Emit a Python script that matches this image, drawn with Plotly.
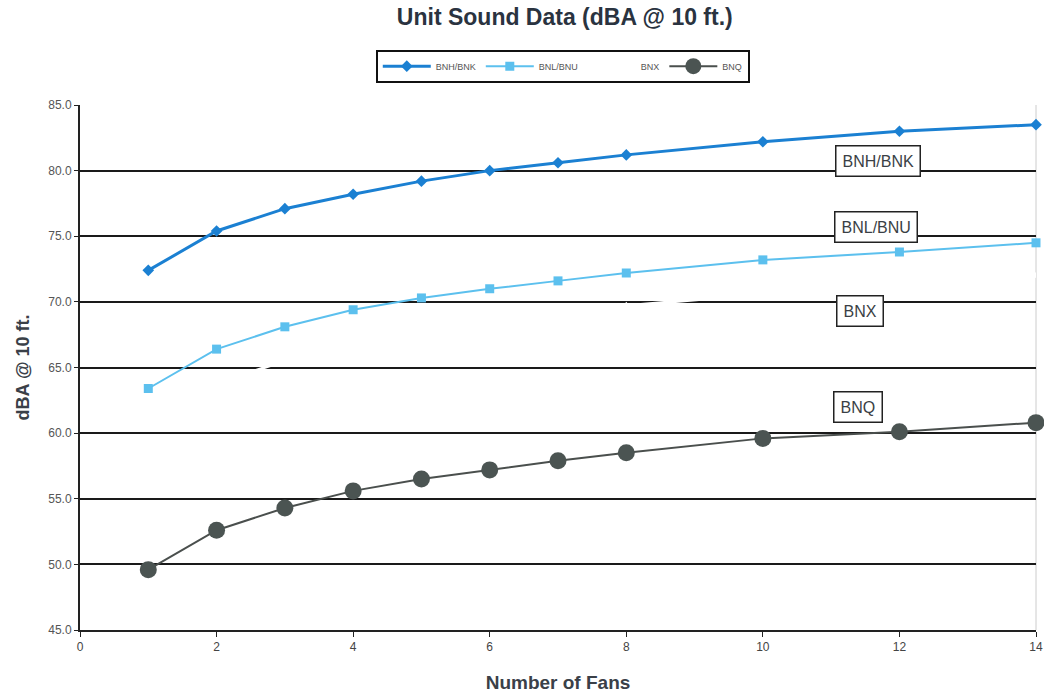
import plotly.graph_objects as go

fans = [1, 2, 3, 4, 5, 6, 7, 8, 10, 12, 14]
bnh_bnk = [72.4, 75.4, 77.1, 78.2, 79.2, 80.0, 80.6, 81.2, 82.2, 83.0, 83.5]
bnl_bnu = [63.4, 66.4, 68.1, 69.4, 70.3, 71.0, 71.6, 72.2, 73.2, 73.8, 74.5]
bnx = [61.5, 63.8, 65.5, 66.7, 67.7, 68.4, 69.1, 69.7, 70.6, 71.3, 72.0]
bnq = [49.6, 52.6, 54.3, 55.6, 56.5, 57.2, 57.9, 58.5, 59.6, 60.1, 60.8]

series_names = ["BNH/BNK", "BNL/BNU", "BNX", "BNQ"]
label_text = ["BNH/BNK", "BNL/BNU", "BNX", "BNQ"]
label_x = [11.68, 11.66, 11.42, 11.40]
label_y = [80.7, 75.7, 69.3, 62.0]

x_ticks = [0, 2, 4, 6, 8, 10, 12, 14]
y_ticks = [45, 50, 55, 60, 65, 70, 75, 80, 85]

FONT = "Arial, Liberation Sans, sans-serif"

fig = go.Figure()
fig.add_trace(go.Scatter(
    x=fans, y=bnh_bnk, name=series_names[0], mode="lines+markers", cliponaxis=False,
    line=dict(color="#1b80d2", width=3),
    marker=dict(symbol="diamond", size=9, color="#1b80d2")))
fig.add_trace(go.Scatter(
    x=fans, y=bnl_bnu, name=series_names[1], mode="lines+markers", cliponaxis=False,
    line=dict(color="#5cc0ee", width=2),
    marker=dict(symbol="square", size=9, color="#5cc0ee")))
fig.add_trace(go.Scatter(
    x=fans, y=bnx, name=series_names[2], mode="lines+markers",
    line=dict(color="#ffffff", width=3),
    marker=dict(symbol="triangle-up", size=8, color="#ffffff")))
fig.add_trace(go.Scatter(
    x=fans, y=bnq, name=series_names[3], mode="lines+markers", cliponaxis=False,
    line=dict(color="#4a4f4d", width=2),
    marker=dict(symbol="circle", size=17, color="#4b5452")))

for t, xx, yy in zip(label_text, label_x, label_y):
    fig.add_annotation(
        x=xx, y=yy, text=t, showarrow=False, xref="x", yref="y",
        font=dict(family=FONT, size=16, color="#3a3f45"),
        bgcolor="white", bordercolor="#222", borderwidth=1.5, borderpad=6)

fig.add_shape(type="line", xref="paper", yref="paper", x0=1, x1=1, y0=0, y1=1,
              line=dict(color="#cccccc", width=1), layer="below")

fig.update_layout(
    width=1044, height=696,
    paper_bgcolor="white", plot_bgcolor="white",
    margin=dict(l=80, r=8, t=105, b=66, autoexpand=False),
    title=dict(text="<b>Unit Sound Data (dBA @ 10 ft.)</b>", x=0.541, xanchor="center",
               y=0.975, yanchor="middle",
               font=dict(family=FONT, size=23, color="#2a3340")),
    legend=dict(orientation="h", x=0.505, xanchor="center", y=1.074, yanchor="middle",
                bordercolor="#111", borderwidth=2, bgcolor="white",
                font=dict(family=FONT, size=9, color="#555"),
                itemwidth=48, tracegroupgap=0),
    showlegend=True,
)
fig.update_xaxes(
    range=[0, 14], tickvals=x_ticks, showgrid=False, zeroline=False,
    showline=True, linecolor="#222", linewidth=2,
    ticks="outside", ticklen=5, tickcolor="#222", automargin=False,
    tickfont=dict(family=FONT, size=12, color="#444"),
    title=dict(text="<b>Number of Fans</b>", standoff=22,
               font=dict(family=FONT, size=19, color="#3a4048")))
fig.update_yaxes(
    range=[45, 85], tickvals=y_ticks, tickformat=".1f",
    showgrid=True, gridcolor="#1a1a1a", gridwidth=1.6, zeroline=False,
    showline=True, linecolor="#222", linewidth=2,
    ticks="outside", ticklen=4, tickcolor="#222", automargin=False,
    tickfont=dict(family=FONT, size=12, color="#555"),
    title=dict(text="<b>dBA @ 10 ft.</b>", standoff=14,
               font=dict(family=FONT, size=18, color="#3a4048")))

fig.write_html("out.html", config={"displayModeBar": False},
               post_script="document.body.style.margin='0';document.body.style.overflow='hidden';")
